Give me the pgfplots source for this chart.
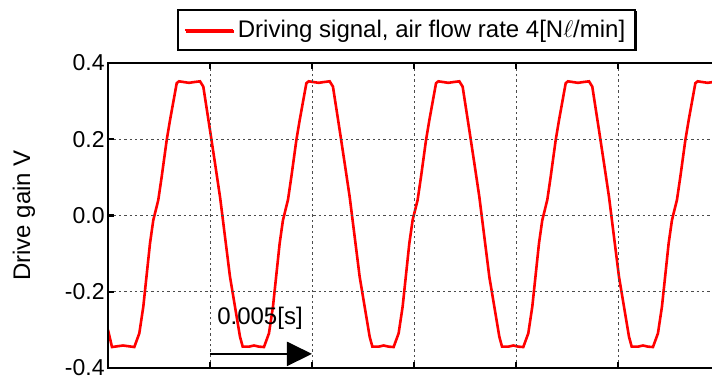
\documentclass[border=0pt]{standalone}
\usepackage{pgfplots}
\pgfplotsset{compat=1.18}
\usepackage{fontspec}
\setmainfont{Liberation Sans}
\usetikzlibrary{arrows.meta,shadows}
\begin{document}
\begin{tikzpicture}
\useasboundingbox (-54pt,-6pt) rectangle (302pt,184pt);
\begin{axis}[
  scale only axis,
  width=306pt, height=152.5pt,
  xmin=0, xmax=30, ymin=-0.4, ymax=0.4,
  xtick={5,10,15,20,25,30}, xticklabels={},
  ytick={-0.4,-0.2,0,0.2,0.4},
  yticklabel style={/pgf/number format/fixed,/pgf/number format/fixed zerofill,/pgf/number format/precision=1,/pgf/number format/assume math mode=true, font=\fontsize{11.5}{13}\selectfont, inner sep=1.5pt},
  tick align=inside,
  major tick length=3pt,
  axis line style={black, line width=1.3pt},
  every tick/.style={black, line width=1.2pt},
  grid=major,
  grid style={black!70, line width=0.45pt, dash pattern=on 1.2pt off 1.5pt},
  axis on top,
  legend style={at={(0.4877,1)}, anchor=south, yshift=6pt, draw=black, line width=1pt,
    inner xsep=3pt, inner ysep=3pt, font=\fontsize{12}{14}\selectfont,
    drop shadow={shadow xshift=0.7pt, shadow yshift=-0.7pt, fill=black, opacity=1}},
  legend image code/.code={\draw[red, line width=1.1pt] (0pt,0pt) -- (24pt,0pt);},
]
\addplot[red, line width=1.3pt] coordinates {
(0,-0.300) (0.196,-0.345) (0.735,-0.341) (1.290,-0.345)
(1.535,-0.309) (1.731,-0.239) (2.059,-0.073) (2.221,-0.012) (2.466,0.041) (2.633,0.102) (2.878,0.198) (3.040,0.250) (3.368,0.347) (3.481,0.352) (3.726,0.350) (3.971,0.348) (4.216,0.350) (4.510,0.352) (4.672,0.338) (5.000,0.224) (5.246,0.137) (5.491,0.049) (5.736,-0.056) (5.981,-0.161) (6.309,-0.266) (6.471,-0.318) (6.603,-0.344) (6.912,-0.344) (7.157,-0.341) (7.402,-0.344)
(7.646,-0.345) (7.891,-0.309) (8.087,-0.239) (8.415,-0.073) (8.577,-0.012) (8.822,0.041) (8.989,0.102) (9.234,0.198) (9.396,0.250) (9.724,0.347) (9.837,0.352) (10.082,0.350) (10.327,0.348) (10.572,0.350) (10.866,0.352) (11.028,0.338) (11.356,0.224) (11.602,0.137) (11.847,0.049) (12.092,-0.056) (12.337,-0.161) (12.665,-0.266) (12.827,-0.318) (12.959,-0.344) (13.268,-0.344) (13.513,-0.341) (13.758,-0.344)
(14.002,-0.345) (14.247,-0.309) (14.443,-0.239) (14.771,-0.073) (14.933,-0.012) (15.178,0.041) (15.345,0.102) (15.590,0.198) (15.752,0.250) (16.080,0.347) (16.193,0.352) (16.438,0.350) (16.683,0.348) (16.928,0.350) (17.222,0.352) (17.384,0.338) (17.712,0.224) (17.958,0.137) (18.203,0.049) (18.448,-0.056) (18.693,-0.161) (19.021,-0.266) (19.183,-0.318) (19.315,-0.344) (19.624,-0.344) (19.869,-0.341) (20.114,-0.344)
(20.358,-0.345) (20.603,-0.309) (20.799,-0.239) (21.127,-0.073) (21.289,-0.012) (21.534,0.041) (21.701,0.102) (21.946,0.198) (22.108,0.250) (22.436,0.347) (22.549,0.352) (22.794,0.350) (23.039,0.348) (23.284,0.350) (23.578,0.352) (23.740,0.338) (24.068,0.224) (24.314,0.137) (24.559,0.049) (24.804,-0.056) (25.049,-0.161) (25.377,-0.266) (25.539,-0.318) (25.671,-0.344) (25.980,-0.344) (26.225,-0.341) (26.470,-0.344)
(26.714,-0.345) (26.959,-0.309) (27.155,-0.239) (27.483,-0.073) (27.645,-0.012) (27.890,0.041) (28.057,0.102) (28.302,0.198) (28.464,0.250) (28.792,0.347) (28.905,0.352) (29.150,0.350) (29.395,0.348) (29.640,0.350) (29.934,0.352) (30.096,0.338) (30.424,0.224)
};
\addlegendentry{Driving signal, air flow rate 4[N$\ell$/min]}
\draw[line width=1pt, -{Triangle[length=12.5pt,width=12pt]}] (axis cs:5,-0.363) -- (axis cs:10,-0.363);
\node[font=\fontsize{12}{14}\selectfont] at (axis cs:7.45,-0.269) {0.005[s]};
\end{axis}
\node[rotate=90, font=\fontsize{12}{14}\selectfont] at (-42pt,76.25pt) {Drive gain V};
\end{tikzpicture}
\end{document}
